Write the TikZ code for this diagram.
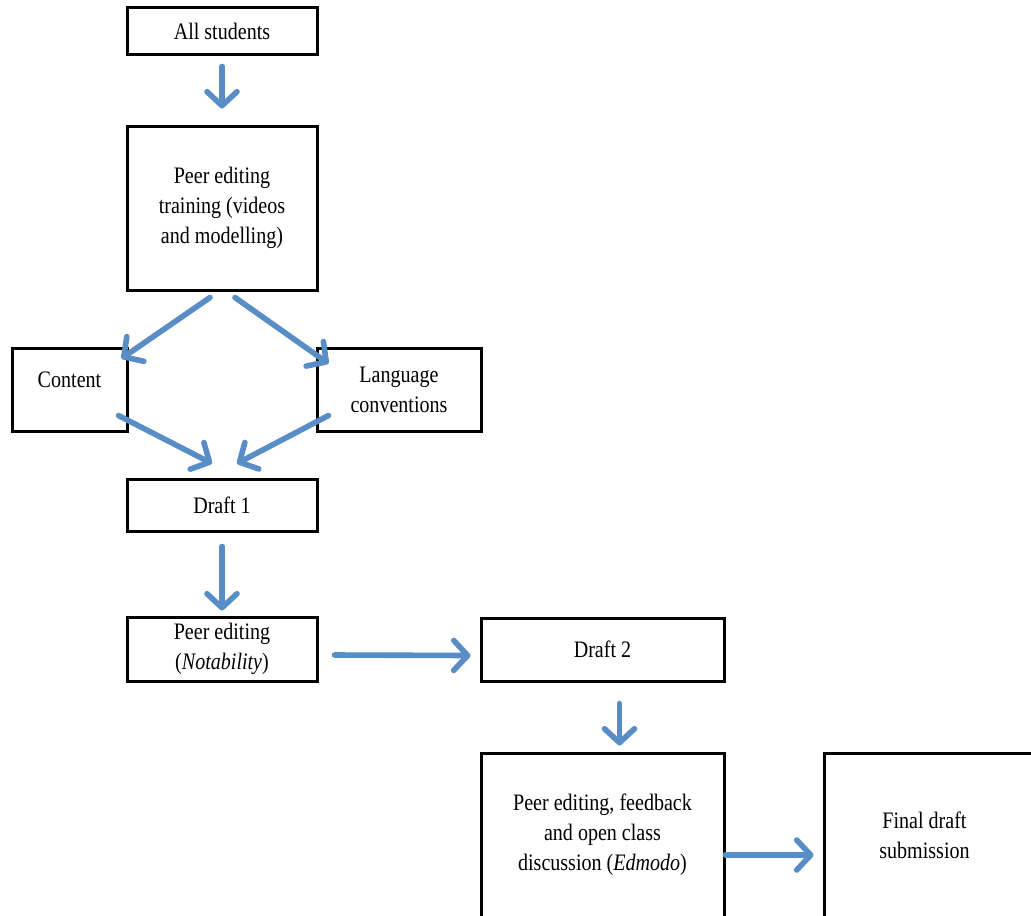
\documentclass[tikz,border=0pt]{standalone}
\usepackage{fontspec}
\setmainfont{Liberation Serif}[FakeStretch=0.85]
\usetikzlibrary{arrows.meta,calc}
\definecolor{pfeilblau}{RGB}{88,141,198}
\tikzset{
	box/.style={draw, line width=1.5pt, align=center, inner sep=2pt, font=\fontsize{11.8}{15}\selectfont},
	flow/.style={draw=pfeilblau, line width=2.8pt, line cap=round, -{Straight Barb[length=7pt,width=15pt,round]}}
}
\begin{document}
\begin{tikzpicture}[x=0.5pt, y=-0.5pt]
				\useasboundingbox (0,0) rectangle (1031,915);
				\clip (0,0) rectangle (1031,915);
				
				% Kaesten
				\draw (222,31.5) node[box, minimum width=95pt, minimum height=23.5pt] (all) {All students};
				\draw (222,208) node[box, minimum width=95pt, minimum height=82pt] (train) {Peer editing\\training (videos\\and modelling)};
				\draw (69.5,389.5) node[box, minimum width=57.5pt, minimum height=41.5pt, text depth=10pt] (content) {Content};
				\draw (399,389.5) node[box, minimum width=82pt, minimum height=41.5pt] (lang) {Language\\conventions};
				\draw (222,505) node[box, minimum width=95pt, minimum height=26pt] (draft1) {Draft 1};
				\draw (222,649) node[box, minimum width=95pt, minimum height=32pt] (peer) {Peer editing\\(\textit{Notability})};
				\draw (602.5,649.5) node[box, minimum width=121.5pt, minimum height=31.5pt] (draft2) {Draft 2};
				\draw (602.5,835) node[box, minimum width=121.5pt, minimum height=82pt] (review) {Peer editing, feedback\\and open class\\discussion (\textit{Edmodo})};
				\draw (929.5,835) node[box, minimum width=105.5pt, minimum height=82pt] (final) {\hspace*{-5pt}Final draft\\\hspace*{-5pt}submission};
				
				% Pfeile
				\draw[flow] ($(all.south)+(0,10)$) -- ($(train.north)+(0,-16)$);
				\draw[flow] ($(train.south)+(-12,6)$) -- ($(content.north east)+(-7,12)$);
				\draw[flow] ($(train.south)+(13,6)$) -- ($(lang.north west)+(13,17)$);
				\draw[flow] ($(content.south east)+(-10,-17)$) -- ($(draft1.north)+(-10,-14)$);
				\draw[flow] ($(lang.south west)+(13,-17)$) -- ($(draft1.north)+(15,-14)$);
				\draw[flow] ($(draft1.south)+(0,14)$) -- ($(peer.north)+(0,-5)$);
				\draw[flow] ($(peer.east)+(16,6)$) -- ($(draft2.west)+(-9,6)$);
				\draw[flow] ($(draft2.south)+(17,21)$) -- ($(review.north)+(17,-6)$);
				\draw[flow] ($(review.east)+(0,20)$) -- ($(final.west)+(-9,20)$);
\end{tikzpicture}
\end{document}
